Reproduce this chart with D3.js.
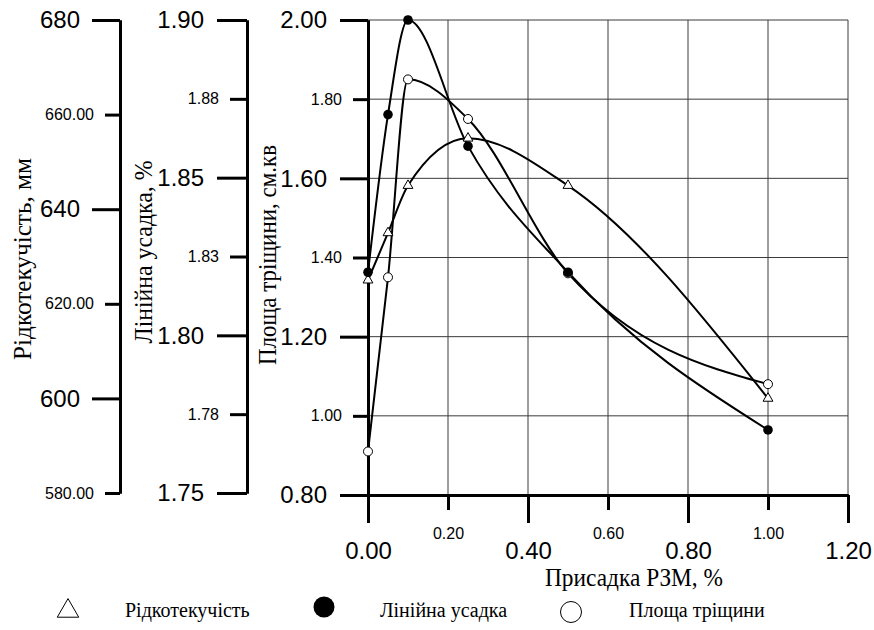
<!DOCTYPE html>
<html><head><meta charset="utf-8">
<script src="https://cdn.jsdelivr.net/npm/d3@7"></script>
<style>body{margin:0;background:#fff}svg{display:block}</style>
</head><body><svg id="c" width="874" height="630"></svg>
<script>
// ---- data ----
const xValues = [0, 0.05, 0.1, 0.25, 0.5, 1.0];            // Присадка РЗМ, %
const fluidity = [625, 635, 645, 655, 645, 600];           // Рідкотекучість, мм
const shrinkage = [1.82, 1.87, 1.90, 1.86, 1.82, 1.77];    // Лінійна усадка, %
const crackArea = [0.91, 1.35, 1.85, 1.75, 1.36, 1.08];    // Площа тріщини, см.кв

const xMajorTicks = [0, 0.4, 0.8, 1.2];
const xMinorTicks = [0.2, 0.6, 1.0];
const areaMajorTicks = [0.8, 1.2, 1.6, 2.0];
const areaMinorTicks = [1.0, 1.4, 1.8];
const fluidMajorTicks = [600, 640, 680];
const fluidMinorTicks = [580, 620, 660];
const shrinkMajorTicks = [1.75, 1.80, 1.85, 1.90];
const shrinkMinorTicks = [1.775, 1.825, 1.875];
const shrinkMinorLabels = ["1.78", "1.83", "1.88"];

const xTitle = "Присадка РЗМ, %";
const fluidTitle = "Рідкотекучість, мм";
const shrinkTitle = "Лінійна усадка, %";
const areaTitle = "Площа тріщини, см.кв";
const legendLabels = ["Рідкотекучість", "Лінійна усадка", "Площа тріщини"];

const SANS = "Liberation Sans";
const SERIF = "Liberation Serif";

// ---- scales ----
const svg = d3.select("#c");

const x = d3.scaleLinear().domain([0, 1.2]).range([368, 848]);
const yArea = d3.scaleLinear().domain([0.8, 2.0]).range([495, 20]);
const yFluid = d3.scaleLinear().domain([580, 680]).range([493, 20]);
const yShrink = d3.scaleLinear().domain([1.75, 1.90]).range([493, 20]);

// ---- grid ----
const grid = svg.append("g").attr("stroke", "#3a3a3a").attr("stroke-width", 1);
grid.selectAll("line.v").data(xMajorTicks.concat(xMinorTicks).filter(d => d > 0))
  .join("line").attr("class", "v")
  .attr("x1", d => x(d)).attr("x2", d => x(d))
  .attr("y1", yArea(2.0)).attr("y2", yArea(0.8));
grid.selectAll("line.h").data(areaMajorTicks.concat(areaMinorTicks).filter(d => d > 0.8))
  .join("line").attr("class", "h")
  .attr("x1", x(0)).attr("x2", x(1.2))
  .attr("y1", d => yArea(d)).attr("y2", d => yArea(d));

function styleAxis(g, fontSize) {
  g.attr("font-family", SANS).attr("font-size", fontSize);
  g.select(".domain").attr("stroke", "#000").attr("stroke-width", 3);
  g.selectAll(".tick line").attr("stroke", "#000").attr("stroke-width", 3);
  g.selectAll(".tick text").attr("fill", "#000");
}

// ---- Рідкотекучість axis ----
svg.append("g").attr("transform", "translate(120,0)")
  .call(d3.axisLeft(yFluid).tickValues(fluidMajorTicks).tickSize(28).tickPadding(12).tickSizeOuter(0).tickFormat(d3.format("d")))
  .call(g => styleAxis(g, 24));
svg.append("g").attr("transform", "translate(120,0)")
  .call(d3.axisLeft(yFluid).tickValues(fluidMinorTicks).tickSize(15).tickPadding(11).tickSizeOuter(0).tickFormat(d3.format(".2f")))
  .call(g => styleAxis(g, 16));

// ---- Лінійна усадка axis ----
svg.append("g").attr("transform", "translate(247,0)")
  .call(d3.axisLeft(yShrink).tickValues(shrinkMajorTicks).tickSize(30).tickPadding(13).tickSizeOuter(0).tickFormat(d3.format(".2f")))
  .call(g => styleAxis(g, 24));
svg.append("g").attr("transform", "translate(247,0)")
  .call(d3.axisLeft(yShrink).tickValues(shrinkMinorTicks).tickSize(17).tickPadding(11).tickSizeOuter(0).tickFormat((d, i) => shrinkMinorLabels[i]))
  .call(g => styleAxis(g, 16));

// ---- Площа тріщини axis ----
svg.append("g").attr("transform", `translate(${x(0)},0)`)
  .call(d3.axisLeft(yArea).tickValues(areaMajorTicks).tickSize(28).tickPadding(13).tickSizeOuter(0).tickFormat(d3.format(".2f")))
  .call(g => styleAxis(g, 24));
svg.append("g").attr("transform", `translate(${x(0)},0)`)
  .call(d3.axisLeft(yArea).tickValues(areaMinorTicks).tickSize(15).tickPadding(11).tickSizeOuter(0).tickFormat(d3.format(".2f")))
  .call(g => styleAxis(g, 16));

// ---- x axis ----
svg.append("g").attr("transform", `translate(0,${yArea(0.8)})`)
  .call(d3.axisBottom(x).tickValues(xMajorTicks).tickSize(28).tickPadding(19).tickSizeOuter(0).tickFormat(d3.format(".2f")))
  .call(g => styleAxis(g, 24));
svg.append("g").attr("transform", `translate(0,${yArea(0.8)})`)
  .call(d3.axisBottom(x).tickValues(xMinorTicks).tickSize(15).tickPadding(18).tickSizeOuter(0).tickFormat(d3.format(".2f")))
  .call(g => styleAxis(g, 16));

// condensed serif text: given font size, squeezed to a target width
function serifText(sel, size, width) {
  sel.attr("font-family", SERIF).attr("font-size", size).attr("fill", "#000");
  const len = sel.node().getComputedTextLength();
  if (len > width) sel.attr("textLength", width).attr("lengthAdjust", "spacingAndGlyphs");
  return sel;
}

// ---- titles ----
function vTitle(txt, cx, cy, size, w) {
  const t = svg.append("text").attr("transform", `translate(${cx},${cy}) rotate(-90)`)
    .attr("text-anchor", "middle").text(txt);
  serifText(t, size, w);
}
vTitle(fluidTitle, 31, 259, 26, 202);
vTitle(shrinkTitle, 152, 252, 26, 183);
vTitle(areaTitle, 276, 255, 26, 220);
serifText(svg.append("text").attr("x", 634).attr("y", 586).attr("text-anchor", "middle").text(xTitle), 26, 178);

// ---- series ----
function series(vals, yScale) {
  return xValues.map((d, i) => [x(d), yScale(vals[i])]);
}
const sFluid = series(fluidity, yFluid);
const sShrink = series(shrinkage, yShrink);
const sArea = series(crackArea, yArea);
const lineGen = d3.line().curve(d3.curveMonotoneX);
const lines = svg.append("g").attr("fill", "none").attr("stroke", "#000").attr("stroke-width", 2);
[sFluid, sShrink, sArea].forEach(s => lines.append("path").attr("d", lineGen(s)));

const tri = d3.symbol().type(d3.symbolTriangle).size(42);
svg.append("g").selectAll("path").data(sFluid).join("path")
  .attr("transform", d => `translate(${d[0]},${d[1]})`).attr("d", tri)
  .attr("fill", "#fff").attr("stroke", "#000").attr("stroke-width", 1);
svg.append("g").selectAll("circle").data(sArea).join("circle")
  .attr("cx", d => d[0]).attr("cy", d => d[1]).attr("r", 4.5)
  .attr("fill", "#fff").attr("stroke", "#000").attr("stroke-width", 1);
svg.append("g").selectAll("circle").data(sShrink).join("circle")
  .attr("cx", d => d[0]).attr("cy", d => d[1]).attr("r", 4.8).attr("fill", "#000");

// ---- legend ----
const lg = svg.append("g");
lg.append("path").attr("transform", "translate(68,611)")
  .attr("d", d3.symbol().type(d3.symbolTriangle).size(200)).attr("fill", "none").attr("stroke", "#000").attr("stroke-width", 1);
lg.append("circle").attr("cx", 324).attr("cy", 607).attr("r", 10.5).attr("fill", "#000");
lg.append("circle").attr("cx", 571).attr("cy", 612).attr("r", 10.5).attr("fill", "none").attr("stroke", "#000").attr("stroke-width", 1);
const legendX = [125, 380, 629];
const legendW = [127, 130, 136];
lg.selectAll("text").data(legendLabels).join("text")
  .attr("x", (d, i) => legendX[i]).attr("y", 617).text(d => d)
  .each(function(d, i) { serifText(d3.select(this), 20, legendW[i]); });
</script></body></html>
